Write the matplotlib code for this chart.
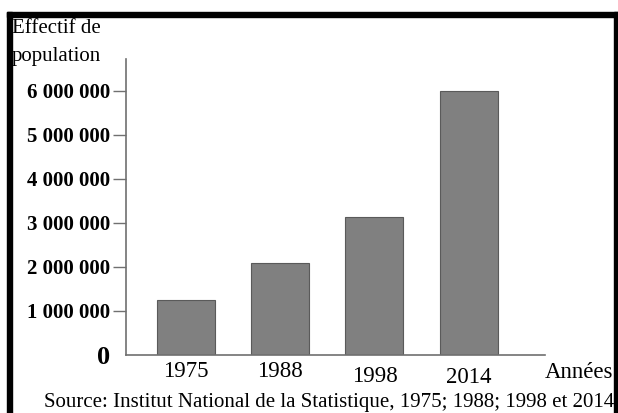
import matplotlib.pyplot as plt
from matplotlib.patches import Rectangle

# Data
annees = ['1975', '1988', '1998', '2014']
effectifs = [1250000, 2090000, 3140000, 6000000]
yticks = [0, 1000000, 2000000, 3000000, 4000000, 5000000, 6000000]
ytick_labels = ['0', '1 000 000', '2 000 000', '3 000 000',
                '4 000 000', '5 000 000', '6 000 000']
source = 'Source: Institut National de la Statistique, 1975; 1988; 1998 et 2014'

W, H = 618, 413
serif = ['Liberation Serif', 'DejaVu Serif']

fig = plt.figure(figsize=(W / 100, H / 100), dpi=100)
fig.patch.set_facecolor('white')


def fx(px):
    return px / W


def fy(py):
    return 1 - py / H


# axes placed in pixel terms
ax = fig.add_axes([fx(126), fy(355), fx(545) - fx(126), fy(59) - fy(355)])

pos = list(range(len(annees)))
ax.bar(pos, effectifs, width=0.615, color='#808080', edgecolor='#5a5a5a',
       linewidth=0.8, zorder=2)

ax.set_xlim(-0.637, 3.81)
ax.set_ylim(0, 6727000)

for s in ['top', 'right']:
    ax.spines[s].set_visible(False)
for s in ['left', 'bottom']:
    ax.spines[s].set_color('#707070')
    ax.spines[s].set_linewidth(1.2)

ax.set_yticks(yticks)
ax.set_yticklabels(ytick_labels, fontfamily=serif, fontweight='bold', fontsize=15)
ax.tick_params(axis='y', length=9.5, width=1.0, color='#707070', pad=2)
ax.yaxis.get_major_ticks()[0].tick1line.set_visible(False)
ax.get_yticklabels()[0].set_fontsize(19)

ax.set_xticks(pos)
ax.set_xticklabels([])
ax.tick_params(axis='x', length=0)

# year labels (slightly staggered as in the original)
year_y = [377, 377, 382, 383]
for p, lab, yy in zip(pos, annees, year_y):
    xpix = ax.transData.transform((p, 0))[0]
    fig.text(xpix / W, fy(yy), lab, fontfamily=serif, fontsize=16.5,
             ha='center', va='baseline')

fig.text(fx(545), fy(378), 'Années', fontfamily=serif, fontsize=16.5,
         ha='left', va='baseline')
fig.text(fx(12), fy(33), 'Effectif de', fontfamily=serif, fontsize=15,
         ha='left', va='baseline')
fig.text(fx(12), fy(61), 'population', fontfamily=serif, fontsize=15,
         ha='left', va='baseline')
fig.text(fx(614), fy(407), source, fontfamily=serif, fontsize=15,
         ha='right', va='baseline')

# black frame (top, left, right)
for x0, y0, w, h in [(7, 12, 611, 5), (7, 12, 5, 401), (614, 12, 4, 401)]:
    fig.patches.append(Rectangle((fx(x0), fy(y0 + h)), w / W, h / H,
                                 transform=fig.transFigure, color='black',
                                 zorder=10))

fig.savefig('out.png', dpi=100)
